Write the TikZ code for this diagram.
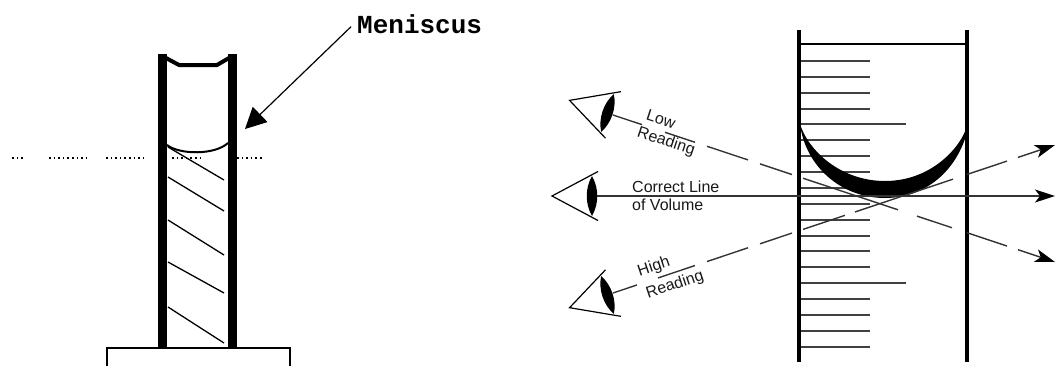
\documentclass[tikz,border=0pt]{standalone}
\usepackage{fontspec}
\setmainfont{Liberation Sans}
\newfontfamily\labelmono{Liberation Mono}
\usetikzlibrary{arrows.meta,calc}
\begin{document}
\begin{tikzpicture}[x=1pt,y=-1pt,
  tubewall/.style={line width=8.5pt},
  hatch/.style={line width=1.3pt},
  dotline/.style={line width=1.6pt, dash pattern=on 1.6pt off 3pt},
  cylwall/.style={line width=3.5pt},
  grad/.style={line width=1.3pt, draw=black!75},
  ray/.style={line width=1.4pt, draw=black!80},
  raytip/.style={-{Stealth[length=20pt,width=13pt,inset=5pt,color=black]}},
  raylabel/.style={inner sep=0pt, text=black!90, font=\fontsize{16}{18}\selectfont},
  eye/.pic={
    \draw[line width=1.2pt] (6,-24.5) -- (-40,0) -- (6,24.5);
    \fill (0,-20) .. controls (7,-8) and (7,8) .. (0,20)
                  .. controls (-7,8) and (-7,-8) .. (0,-20) -- cycle;
  }
]
\useasboundingbox (0,0) rectangle (1055,365);

% ---------- tube with meniscus ----------
\draw[tubewall] (162.5,54) -- (162.5,347);
\draw[tubewall, line width=9pt] (232.5,54) -- (232.5,347);
\draw[line width=4pt, line join=round] (166,58) -- (179,65) -- (217,65) -- (229,58);
\draw[line width=2pt] (167,145) .. controls (180,155) and (215,155) .. (228,143);
\foreach \ya/\yb in {147/180, 177/211, 220/255, 262/293, 307/343}
  \draw[hatch] (168,\ya) -- (224,\yb);
\foreach \xa/\xb in {12/23, 49/86, 106/143, 172/200, 237/262}
  \draw[dotline] (\xa,158) -- (\xb,158);
\draw[line width=2pt] (107,367) -- (107,348) -- (290,348) -- (290,367);

\node[inner sep=0pt, anchor=base west, font=\labelmono\bfseries\fontsize{26}{28}\selectfont]
  (men) at (357,33) {Meniscus};
\coordinate (menTip) at (245,129);
\draw[line width=1.2pt, -{Triangle[length=21pt,width=21pt]}]
  ($(men.west)+(-6,3)$) -- (menTip);

% ---------- graduated cylinder ----------
\foreach \i in {0,...,18} {
  \pgfmathsetmacro\yy{round(61+15.87*\i)}
  \pgfmathsetmacro\xe{(\i==4 || \i==14) ? 906 : 870}
  \draw[grad] (799,\yy) -- (\xe,\yy);
}
\draw[line width=1.3pt] (799,44) -- (967,44);
\draw[cylwall] (799,30) -- (799,362);
\draw[cylwall] (967,30) -- (967,362);
\fill (800,124) .. controls (805,165) and (840,198) .. (885,198)
      .. controls (930,198) and (960,165) .. (968,128)
      -- (967,125) .. controls (964,142) and (935,181) .. (885,181)
      .. controls (840,181) and (808,150) .. (800,124) -- cycle;

% ---------- eyes ----------
\pic[rotate=-18.4] at (607.5,113) {eye};
\pic at (592,196) {eye};
\pic[rotate=18.5] at (607.5,295) {eye};

\coordinate (lowA) at (613,115);
\coordinate (lowB) at (1055,262);
\coordinate (highA) at (613,293);
\coordinate (highB) at (1055,145);
\coordinate (midA) at (597,196);
\coordinate (midB) at (1055,196);

% low reading sight line
\foreach \a/\b in {613/642, 665/695, 707/748, 760/792, 803/898, 917/952, 967/1007}
  \draw[ray] ($(lowA)!{(\a-613)/442}!(lowB)$) -- ($(lowA)!{(\b-613)/442}!(lowB)$);
\draw[ray, raytip] ($(lowA)!{(1018-613)/442}!(lowB)$) -- (lowB);

% high reading sight line
\foreach \a/\b in {613/637, 658/695, 707/748, 760/792, 803/845, 855/953, 967/1007}
  \draw[ray] ($(highA)!{(\a-613)/442}!(highB)$) -- ($(highA)!{(\b-613)/442}!(highB)$);
\draw[ray, raytip] ($(highA)!{(1018-613)/442}!(highB)$) -- (highB);

% correct line of sight
\draw[ray, raytip] (midA) -- (midB);

% labels
\node[raylabel, rotate=-18.4] (lowT) at (661,119) {Low};
\node[raylabel, rotate=-18.4] (lowR) at (666,142) {Reading};
\node[raylabel, rotate=18.5] (highT) at (654,267) {High};
\node[raylabel, rotate=18.5] (highR) at (675,285) {Reading};
\node[raylabel, anchor=west] (corr1) at (632,187) {Correct Line};
\node[raylabel, anchor=west] (corr2) at (632,205) {of Volume};
\end{tikzpicture}
\end{document}
